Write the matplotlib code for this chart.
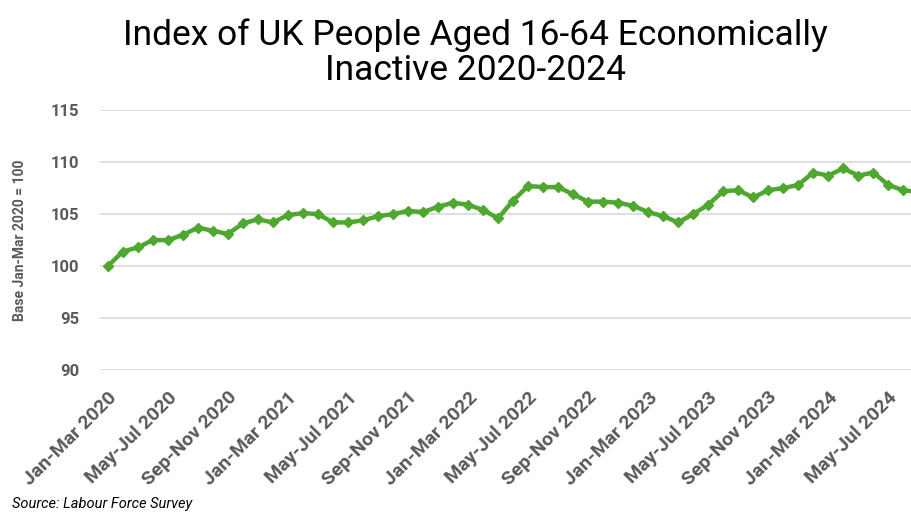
import matplotlib
matplotlib.use("Agg")
from matplotlib import pyplot as plt

plt.rcParams['font.family'] = ['Roboto', 'DejaVu Sans']

# rolling three-month periods, Jan-Mar 2020 onwards
months = ['Jan', 'Feb', 'Mar', 'Apr', 'May', 'Jun',
          'Jul', 'Aug', 'Sep', 'Oct', 'Nov', 'Dec']
periods = []
for k in range(55):
    m = k % 12
    y = 2020 + k // 12
    periods.append(months[m] + '-' + months[(m + 2) % 12] + ' ' + str(y + (m + 2) // 12))

index_vals = [100.0, 101.4, 101.8, 102.5, 102.5, 103.0, 103.7, 103.4, 103.1, 104.1,
              104.5, 104.2, 104.9, 105.1, 105.0, 104.2, 104.2, 104.4, 104.8, 105.0,
              105.3, 105.2, 105.7, 106.1, 105.9, 105.4, 104.6, 106.3, 107.7, 107.6,
              107.6, 106.9, 106.2, 106.2, 106.1, 105.8, 105.2, 104.8, 104.2, 105.0,
              105.9, 107.2, 107.3, 106.6, 107.3, 107.5, 107.8, 109.0, 108.7, 109.4,
              108.7, 109.0, 107.8, 107.3, 107.1]

fig = plt.figure(figsize=(9.12, 5.12), dpi=100)
ax = fig.add_axes([0.110, 0.277, 0.890, 0.508])

x = list(range(len(index_vals)))
ax.plot(x, index_vals, color='#4ea72e', linewidth=3.2, marker='D',
        markersize=5.5, markeredgecolor='#4ea72e', clip_on=True)

ax.set_ylim(90, 115)
ax.set_yticks([90, 95, 100, 105, 110, 115])
ax.set_xlim(-0.5, 53.58)
ax.set_xticks(x[::4])
ax.set_xticklabels(periods[::4], rotation=45, ha='right', rotation_mode='anchor')

ax.grid(axis='y', color='#d9d9d9', linewidth=1.2)
ax.set_axisbelow(True)
for s in ax.spines.values():
    s.set_visible(False)
ax.tick_params(axis='both', length=0, labelcolor='#595959')
ax.tick_params(axis='x', pad=13, labelsize=14)
ax.tick_params(axis='y', pad=15, labelsize=12)
for lbl in ax.get_xticklabels() + ax.get_yticklabels():
    lbl.set_fontweight('bold')

ax.set_ylabel('Base Jan-Mar 2020 = 100', color='#595959', fontsize=10,
              fontweight='bold', labelpad=17)

fig.text(0.521, 0.897, 'Index of UK People Aged 16-64 Economically\nInactive 2020-2024',
         ha='center', va='center', fontsize=25.5, linespacing=1.1, color='black')
fig.text(0.013, 0.002, 'Source: Labour Force Survey', ha='left', va='bottom',
         fontsize=10.5, style='italic', color='black')

fig.savefig('out.png', dpi=100)
